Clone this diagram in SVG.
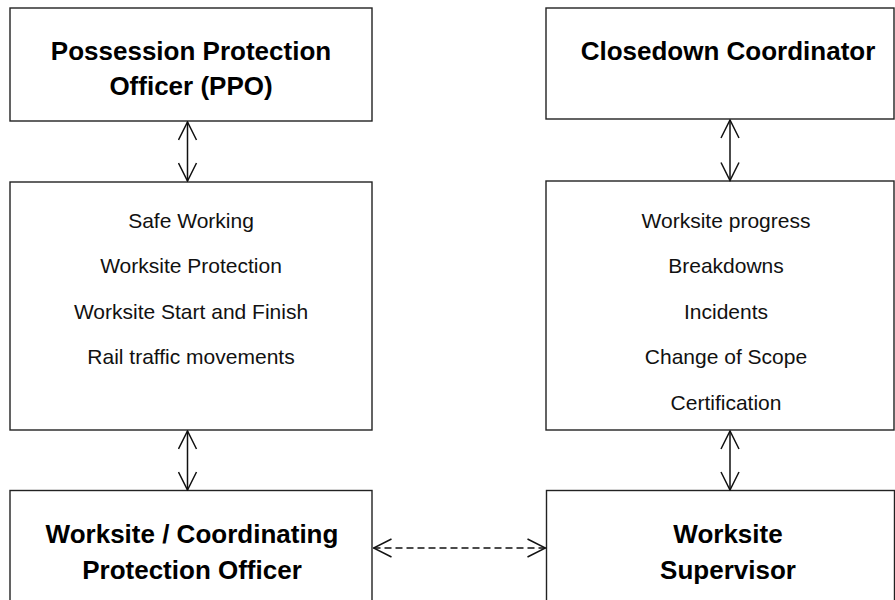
<svg xmlns="http://www.w3.org/2000/svg" width="895" height="600" viewBox="0 0 895 600">
<defs>
<style>
.box{fill:#fff;stroke:#222;stroke-width:1.4}
.title{font-family:"Liberation Sans",Arial,sans-serif;font-weight:bold;font-size:26px;fill:#000;text-anchor:middle}
.item{font-family:"Liberation Sans",Arial,sans-serif;font-size:21px;fill:#111;text-anchor:middle}
.conn{fill:none;stroke:#111;stroke-width:1.5}
.dash{stroke-dasharray:7 4}
</style>
<marker id="chev" viewBox="0 0 20 20" refX="19" refY="10" markerWidth="20" markerHeight="20" markerUnits="userSpaceOnUse" orient="auto-start-reverse">
<path d="M1,1 L19,10 L1,19" fill="none" stroke="#111" stroke-width="1.5"/>
</marker>
</defs>
<rect width="895" height="600" fill="#fff"/>
<g id="ppo">
<rect class="box" x="10" y="8" width="362" height="113"/>
<text class="title" x="191" y="60">Possession Protection</text>
<text class="title" x="191" y="95">Officer (PPO)</text>
</g>
<g id="closedown">
<rect class="box" x="546" y="8" width="348" height="111"/>
<text class="title" x="728" y="60">Closedown Coordinator</text>
</g>
<g id="ppo-topics">
<rect class="box" x="10" y="182" width="362" height="248"/>
<text class="item" x="191" y="228">Safe Working</text>
<text class="item" x="191" y="273">Worksite Protection</text>
<text class="item" x="191" y="319">Worksite Start and Finish</text>
<text class="item" x="191" y="364">Rail traffic movements</text>
</g>
<g id="closedown-topics">
<rect class="box" x="546" y="181" width="348" height="249"/>
<text class="item" x="726" y="228">Worksite progress</text>
<text class="item" x="726" y="273">Breakdowns</text>
<text class="item" x="726" y="319">Incidents</text>
<text class="item" x="726" y="364">Change of Scope</text>
<text class="item" x="726" y="410">Certification</text>
</g>
<g id="wcpo">
<rect class="box" x="10" y="490.5" width="362" height="130"/>
<text class="title" x="192" y="543">Worksite / Coordinating</text>
<text class="title" x="192" y="579">Protection Officer</text>
</g>
<g id="supervisor">
<rect class="box" x="546.5" y="490.5" width="348" height="130"/>
<text class="title" x="728" y="543">Worksite</text>
<text class="title" x="728" y="579">Supervisor</text>
</g>
<g id="connectors">
<line class="conn" x1="187.5" y1="122" x2="187.5" y2="181" marker-start="url(#chev)" marker-end="url(#chev)"/>
<line class="conn" x1="730" y1="120" x2="730" y2="180.5" marker-start="url(#chev)" marker-end="url(#chev)"/>
<line class="conn" x1="187.5" y1="431" x2="187.5" y2="490" marker-start="url(#chev)" marker-end="url(#chev)"/>
<line class="conn" x1="730" y1="431" x2="730" y2="490" marker-start="url(#chev)" marker-end="url(#chev)"/>
<line class="conn dash" x1="373.5" y1="548" x2="545.5" y2="548" marker-start="url(#chev)" marker-end="url(#chev)"/>
</g>
</svg>
